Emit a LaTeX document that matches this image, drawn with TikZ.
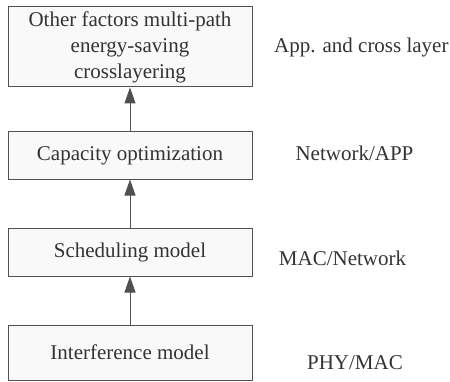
\documentclass[tikz,border=0pt]{standalone}
\usepackage{fontspec}
\setmainfont{Liberation Serif}
\usetikzlibrary{arrows.meta}
\definecolor{boxline}{HTML}{505050}
\definecolor{boxfill}{HTML}{F9F9F9}
\definecolor{txt}{HTML}{333333}
\begin{document}
\begin{tikzpicture}[x=1pt,y=1pt,
  stepbox/.style={draw=boxline, line width=1pt, fill=boxfill, text=txt,
    minimum width=244pt, inner sep=0pt, align=center,
    font=\fontsize{21}{26}\selectfont},
  layerlbl/.style={text=txt, inner sep=0pt, font=\fontsize{21}{26}\selectfont},
  uparrow/.style={draw=boxline, line width=1pt, -{Triangle[length=16pt,width=11pt]}}]
\useasboundingbox (0,0) rectangle (450,381);
\node[stepbox, minimum height=80pt] (b1) at (130,334) {Other factors multi-path\\energy-saving\\crosslayering};
\node[stepbox, minimum height=47pt] (b2) at (130,225.5) {Capacity optimization};
\node[stepbox, minimum height=48pt] (b3) at (130,129) {Scheduling model};
\node[stepbox, minimum height=55pt] (b4) at (130,28.5) {Interference model};
\draw[uparrow] (b2.north) -- (b1.south);
\draw[uparrow] (b3.north) -- (b2.south);
\draw[uparrow] (b4.north) -- (b3.south);
\node[layerlbl, anchor=west] (l1) at (274,334) {App. and cross layer};
\node[layerlbl] (l2) at (354.5,228) {Network/APP};
\node[layerlbl] (l3) at (342.5,123) {MAC/Network};
\node[layerlbl] (l4) at (355,18) {PHY/MAC};
\end{tikzpicture}
\end{document}
